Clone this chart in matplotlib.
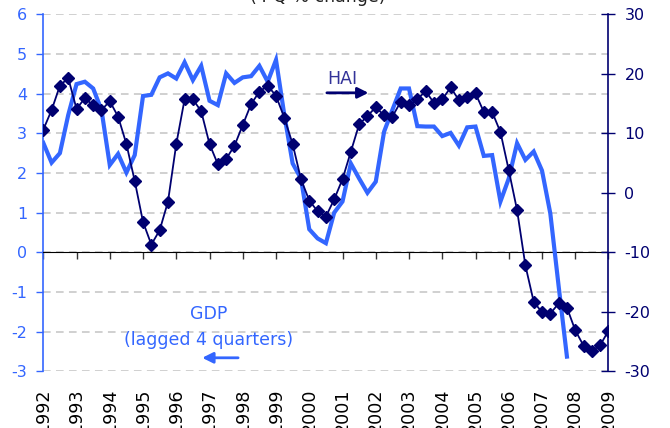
import numpy as np
import matplotlib
matplotlib.use('Agg')
import matplotlib.pyplot as plt

# quarterly series, first point = 1992 Q1
years = list(range(1992, 2010))
hai = [10.6, 13.9, 18.0, 19.3, 14.1, 15.9, 14.7, 13.9, 15.4, 12.8, 8.2, 2.0,
       -4.9, -8.7, -6.3, -1.5, 8.2, 15.7, 15.7, 13.7, 8.2, 4.8, 5.7, 7.9,
       11.4, 14.9, 17.0, 18.0, 16.3, 12.6, 8.2, 2.3, -1.3, -3.1, -4.0, -1.1,
       2.3, 6.9, 11.5, 12.9, 14.4, 13.0, 12.8, 15.3, 14.7, 15.7, 17.1, 15.1,
       15.7, 17.7, 15.6, 16.1, 16.7, 13.6, 13.6, 10.2, 3.8, -2.9, -12.2, -18.3,
       -20.1, -20.3, -18.6, -19.3, -23.1, -25.7, -26.6, -25.6, -23.2]
gdp_lagged = [2.76, 2.26, 2.50, 3.46, 4.24, 4.30, 4.13, 3.59, 2.20, 2.48, 2.01, 2.45,
              3.94, 3.97, 4.41, 4.51, 4.38, 4.79, 4.34, 4.70, 3.82, 3.71, 4.51, 4.27,
              4.41, 4.44, 4.70, 4.30, 4.85, 3.46, 2.24, 1.86, 0.58, 0.35, 0.23, 1.00,
              1.28, 2.24, 1.86, 1.50, 1.78, 3.04, 3.59, 4.13, 4.13, 3.18, 3.17, 3.17,
              2.93, 3.01, 2.69, 3.15, 3.17, 2.43, 2.45, 1.28, 1.86, 2.75, 2.33, 2.54,
              2.06, 0.98, -0.85, -2.63]
left_ticks = list(range(-3, 7))
right_ticks = list(range(-30, 31, 10))

t_hai = 1992 + 0.25 * np.arange(len(hai))
t_gdp = 1992 + 0.25 * np.arange(len(gdp_lagged))

LIGHT = '#3366FF'
NAVY = '#000070'

plt.rcParams['font.family'] = ['DejaVu Sans']
plt.rcParams['axes.unicode_minus'] = False
fig = plt.figure(figsize=(6.7, 4.28), dpi=100)
ax = fig.add_axes([0.0646, 0.1325, 0.8436, 0.8341])
ax2 = ax.twinx()

# left axis: GDP
ax.plot(t_gdp, gdp_lagged, color=LIGHT, lw=3, solid_joinstyle='miter', zorder=3)
ax.set_xlim(1992, 2009)
ax.set_ylim(-3, 6)
ax.set_yticks(left_ticks)
ax.grid(axis='y', color='#c4c4c4', ls=(0, (5, 3.5)), lw=1.1)
ax.set_axisbelow(True)
ax.set_xticks(years)
ax.tick_params(axis='x', direction='out', length=5, width=1, color='#333333',
               labelbottom=False)
ax.tick_params(axis='y', direction='out', length=5, width=1, color=LIGHT,
               labelcolor=LIGHT, labelsize=11.5, pad=6.7)
ax.spines['bottom'].set_position(('data', 0))
ax.spines['bottom'].set_color('black')
ax.spines['top'].set_visible(False)
ax.spines['right'].set_visible(False)
ax.spines['left'].set_color(LIGHT)
ax.spines['left'].set_linewidth(1.2)

# year labels sit below the plot area (cut at the image edge as in the original)
for y in years:
    ax.text(y, -0.047, str(y), transform=ax.get_xaxis_transform(), rotation=90,
            ha='center', va='top', fontsize=12.6, color='black')

# right axis: HAI
ax2.plot(t_hai, hai, color=NAVY, lw=1.3, marker='D', ms=6.3, mfc=NAVY, mec=NAVY, zorder=4)
ax2.set_ylim(-30, 30)
ax2.set_yticks(right_ticks)
ax2.tick_params(axis='y', direction='inout', length=9.4, width=1, color=NAVY,
                labelcolor=NAVY, labelsize=11.5, pad=6.8)
for s in ['left', 'top', 'bottom']:
    ax2.spines[s].set_visible(False)
ax2.spines['right'].set_color(NAVY)
ax2.spines['right'].set_linewidth(1.2)

# annotations
ax.text(2000.98, 4.24, 'HAI', color='#333399', ha='center', va='baseline', fontsize=12.5)
ax.annotate('', xy=(2001.78, 4.02), xytext=(2000.53, 4.02),
            arrowprops=dict(arrowstyle='-|>', color=NAVY, lw=2, mutation_scale=16,
                            shrinkA=0, shrinkB=0))
ax.text(1996.97, -1.68, 'GDP', color=LIGHT, ha='center', va='baseline', fontsize=12.5)
ax.text(1996.97, -2.34, '(lagged 4 quarters)', color=LIGHT, ha='center',
        va='baseline', fontsize=12.5)
ax.annotate('', xy=(1996.78, -2.66), xytext=(1997.86, -2.66),
            arrowprops=dict(arrowstyle='-|>', color=LIGHT, lw=2, mutation_scale=16,
                            shrinkA=0, shrinkB=0))

fig.text(318 / 670, 1 - 2 / 428, '(4 Q % change)', ha='center', va='baseline',
         fontsize=12.5, color='#222222')

fig.savefig('out.png', dpi=100)
